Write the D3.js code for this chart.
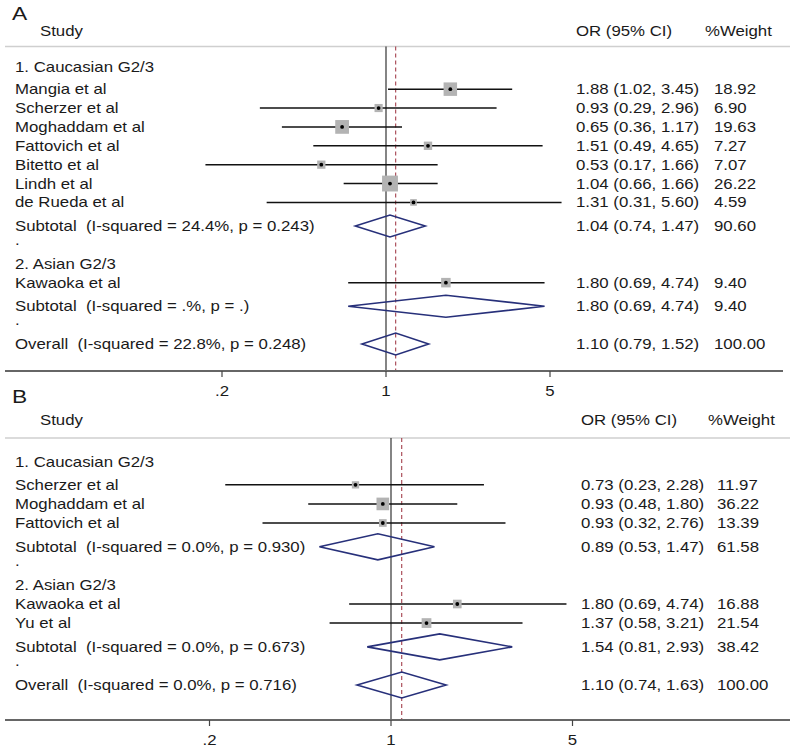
<!DOCTYPE html>
<html><head><meta charset="utf-8">
<script src="https://cdn.jsdelivr.net/npm/d3@7"></script>
<style>
body{margin:0;background:#fff;}
svg text{font-family:"Liberation Sans",Arial,sans-serif;white-space:pre;fill:#1a1a1a;}
</style></head>
<body><svg id="c" width="797" height="750"></svg>
<script>
// ---- Panel A data ----
const labelsA = ["1. Caucasian G2/3","Mangia et al","Scherzer et al","Moghaddam et al","Fattovich et al","Bitetto et al","Lindh et al","de Rueda et al","Subtotal  (I-squared = 24.4%, p = 0.243)",".","2. Asian G2/3","Kawaoka et al","Subtotal  (I-squared = .%, p = .)",".","Overall  (I-squared = 22.8%, p = 0.248)"];
const typesA  = ["head","study","study","study","study","study","study","study","sub","blank","head","study","sub","blank","sub"];
const estA    = [null,1.88,0.93,0.65,1.51,0.53,1.04,1.31,1.04,null,null,1.80,1.80,null,1.10];
const lowA    = [null,1.02,0.29,0.36,0.49,0.17,0.66,0.31,0.74,null,null,0.69,0.69,null,0.79];
const highA   = [null,3.45,2.96,1.17,4.65,1.66,1.66,5.60,1.47,null,null,4.74,4.74,null,1.52];
const weightA = [null,"18.92","6.90","19.63","7.27","7.07","26.22","4.59","90.60",null,null,"9.40","9.40",null,"100.00"];

// ---- Panel B data ----
const labelsB = ["1. Caucasian G2/3","Scherzer et al","Moghaddam et al","Fattovich et al","Subtotal  (I-squared = 0.0%, p = 0.930)",".","2. Asian G2/3","Kawaoka et al","Yu et al","Subtotal  (I-squared = 0.0%, p = 0.673)",".","Overall  (I-squared = 0.0%, p = 0.716)"];
const typesB  = ["head","study","study","study","sub","blank","head","study","study","sub","blank","sub"];
const estB    = [null,0.73,0.93,0.93,0.89,null,null,1.80,1.37,1.54,null,1.10];
const lowB    = [null,0.23,0.48,0.32,0.53,null,null,0.69,0.58,0.81,null,0.74];
const highB   = [null,2.28,1.80,2.76,1.47,null,null,4.74,3.21,2.93,null,1.63];
const weightB = [null,"11.97","36.22","13.39","61.58",null,null,"16.88","21.54","38.42",null,"100.00"];

const tickValues = [0.2, 1, 5];
const tickLabels = [".2", "1", "5"];
const headers = ["Study", "OR (95% CI)", "%Weight"];

const svg = d3.select("#c");
const fmt = v => v.toFixed(2);
const SX = 1.2; // horizontal stretch of the original figure's text

function txt(g, x, y, s, size, anchor){
  return g.append("text").attr("transform",`translate(${x},${y}) scale(${SX},1)`)
    .attr("font-size",size).attr("text-anchor",anchor||"start").text(s);
}

// cumulative row units: extra gap after the top header and before a subtotal that follows a study
function rowUnits(types){
  const u=[0];
  for(let i=1;i<types.length;i++){
    let step=1;
    if(i===1) step=1.2;
    else if(types[i]==="sub" && types[i-1]==="study") step=1.25;
    else if(types[i]==="blank") step=0.75;
    else if(types[i-1]==="blank") step=1.25;
    u.push(u[i-1]+step);
  }
  return u;
}

function panel(cfg){
  const g = svg.append("g");
  const x = d3.scaleLog().domain([0.2,5]).range(cfg.xr);
  const n = cfg.labels.length;
  const units = rowUnits(cfg.types);
  const y = d3.scaleLinear().domain([0,units[n-1]]).range(cfg.yr);
  txt(g,12,cfg.letterY,cfg.letter,19);
  txt(g,40,cfg.headY,headers[0],14);
  txt(g,cfg.colOR,cfg.headY,headers[1],14);
  txt(g,cfg.colW-9,cfg.headY,headers[2],14);
  g.append("line").attr("x1",5).attr("x2",790).attr("y1",cfg.sepY).attr("y2",cfg.sepY)
    .attr("stroke","#cfcfcf").attr("stroke-width",1.5);
  g.append("line").attr("x1",x(1)).attr("x2",x(1)).attr("y1",cfg.sepY).attr("y2",cfg.axisY)
    .attr("stroke","#333").attr("stroke-width",1.2);
  const ov = cfg.est[n-1];
  g.append("line").attr("x1",x(ov)).attr("x2",x(ov)).attr("y1",cfg.sepY).attr("y2",cfg.axisY)
    .attr("stroke","#9b2d3a").attr("stroke-width",1).attr("stroke-dasharray","4,3");
  cfg.labels.forEach((lab,i)=>{
    const yy = y(units[i]), t = cfg.types[i];
    txt(g,15,yy+5,lab,14);
    if (t==="study"){
      g.append("line").attr("x1",x(cfg.low[i])).attr("x2",x(cfg.high[i])).attr("y1",yy).attr("y2",yy)
        .attr("stroke","#111").attr("stroke-width",1.5);
      const s = cfg.sq*Math.sqrt(+cfg.weight[i]);
      g.append("rect").attr("x",x(cfg.est[i])-s/2).attr("y",yy-s/2).attr("width",s).attr("height",s)
        .attr("fill","#b3b3b3");
      g.append("circle").attr("cx",x(cfg.est[i])).attr("cy",yy).attr("r",1.9).attr("fill","#000");
    }
    if (t==="sub"){
      const h = cfg.dh;
      const pts = [[x(cfg.low[i]),yy],[x(cfg.est[i]),yy-h],[x(cfg.high[i]),yy],[x(cfg.est[i]),yy+h]];
      g.append("path").attr("d","M"+pts.map(p=>p.join(",")).join("L")+"Z")
        .attr("fill","none").attr("stroke","#27307a").attr("stroke-width",1.6);
    }
    if (cfg.est[i]!=null){
      txt(g,cfg.colOR,yy+5,`${fmt(cfg.est[i])} (${fmt(cfg.low[i])}, ${fmt(cfg.high[i])})`,14);
      txt(g,cfg.colW,yy+5,cfg.weight[i],14);
    }
  });
  g.append("line").attr("x1",5).attr("x2",cfg.axisEnd).attr("y1",cfg.axisY).attr("y2",cfg.axisY)
    .attr("stroke","#666").attr("stroke-width",2);
  tickValues.forEach((v,k)=>{
    g.append("line").attr("x1",x(v)).attr("x2",x(v)).attr("y1",cfg.axisY).attr("y2",cfg.axisY+6)
      .attr("stroke","#444").attr("stroke-width",1.2);
    txt(g,x(v),cfg.axisY+25,tickLabels[k],14,"middle");
  });
}

panel({letter:"A",letterY:20,headY:36,sepY:46.5,yr:[66.5,344],xr:[222,550],axisY:371,axisEnd:783,
  colOR:576,colW:714,sq:3.1,dh:11,
  labels:labelsA,types:typesA,est:estA,low:lowA,high:highA,weight:weightA});
panel({letter:"B",letterY:403,headY:425,sepY:438,yr:[462,685],xr:[209.5,572.5],axisY:720,axisEnd:790,
  colOR:581,colW:717,sq:2.1,dh:13,
  labels:labelsB,types:typesB,est:estB,low:lowB,high:highB,weight:weightB});
</script></body></html>
